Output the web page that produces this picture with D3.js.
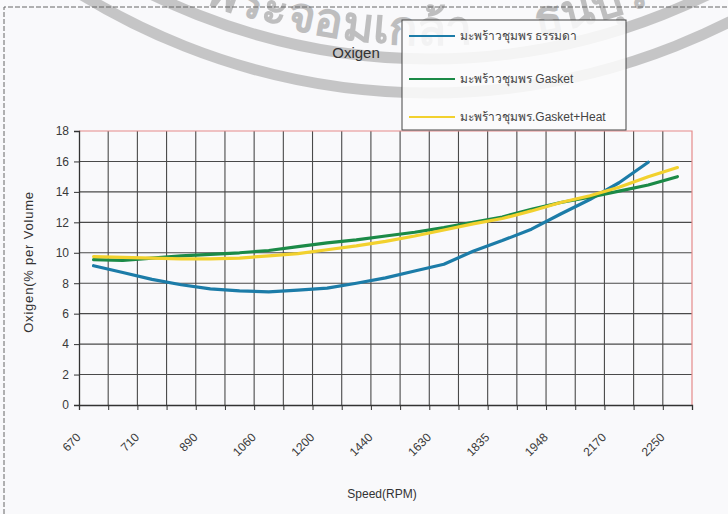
<!DOCTYPE html>
<html>
<head>
<meta charset="utf-8">
<script src="https://cdn.jsdelivr.net/npm/d3@7"></script>
<style>
  html, body { margin: 0; padding: 0; background: #f9f9fb; }
  svg { display: block; font-family: "Liberation Sans", Arial, sans-serif; }
</style>
</head>
<body>
<svg id="chart" width="728" height="514"></svg>
<script>
// Engine speed categories (only every other one carries a printed label)
const speedLabels = ["670", "", "710", "", "890", "", "1060", "", "1200", "", "1440",
                     "", "1630", "", "1835", "", "1948", "", "2170", "", "2250"];

// Oxygen in exhaust, % by volume
const plainValues  = [9.15, 8.7, 8.25, 7.9, 7.63, 7.5, 7.43, 7.55, 7.68, 8.0, 8.35,
                      8.8, 9.25, 10.1, 10.8, 11.55, 12.55, 13.5, 14.6, 15.95];
const gasketValues = [9.55, 9.5, 9.65, 9.8, 9.9, 10.0, 10.15, 10.4, 10.65, 10.85, 11.1,
                      11.35, 11.65, 12.0, 12.35, 12.85, 13.3, 13.65, 14.05, 14.45, 15.0];
const heatValues   = [9.75, 9.7, 9.65, 9.6, 9.6, 9.65, 9.8, 9.95, 10.2, 10.45, 10.75,
                      11.1, 11.5, 11.9, 12.25, 12.75, 13.3, 13.75, 14.3, 15.0, 15.6];

const seriesNames  = ["มะพร้าวชุมพร ธรรมดา", "มะพร้าวชุมพร Gasket", "มะพร้าวชุมพร.Gasket+Heat"];
const seriesColors = ["#1c7ca8", "#1b8a47", "#f2d12e"];
const yTicks = [0, 2, 4, 6, 8, 10, 12, 14, 16, 18];

const svg = d3.select("#chart");
const plot = { left: 79, right: 692, top: 131, bottom: 405 };
const textColor = "#3a3a3a";

// ---- faint seal stamped across the top of the sheet ----
const seal = { cx: 430, cy: -573 };
const stamp = svg.append("g").attr("opacity", 0.55);
[632, 666].forEach(r => {
  stamp.append("circle")
    .attr("cx", seal.cx).attr("cy", seal.cy).attr("r", r)
    .attr("fill", "none").attr("stroke", "#9c9c9c").attr("stroke-width", 11);
});
const rText = 618;
const a0 = Math.PI / 2 + 0.6, a1 = Math.PI / 2 - 0.6;
stamp.append("path")
  .attr("id", "sealArc")
  .attr("fill", "none")
  .attr("d", `M${seal.cx + rText * Math.cos(a0)},${seal.cy + rText * Math.sin(a0)}
              A${rText},${rText} 0 0 0 ${seal.cx + rText * Math.cos(a1)},${seal.cy + rText * Math.sin(a1)}`);
[["พระจอมเกล้า", 140], ["ธนบุรี", 478]].forEach(([word, offset]) => {
  stamp.append("text")
    .attr("font-size", 48).attr("font-weight", "bold").attr("fill", "#8f8f8f")
    .append("textPath").attr("href", "#sealArc").attr("startOffset", offset)
    .text(word);
});

// ---- outer chart frame ----
svg.append("path")
  .attr("d", "M4,514 L4,7 L728,7")
  .attr("fill", "none").attr("stroke", "#666").attr("stroke-width", 1)
  .attr("stroke-dasharray", "5,2");

// ---- scales ----
const x = d3.scaleBand().domain(d3.range(speedLabels.length))
  .range([plot.left, plot.right]).paddingInner(0).paddingOuter(0);
const xEdge = d3.scaleLinear().domain([0, speedLabels.length])
  .range([plot.left, plot.right]);
const y = d3.scaleLinear().domain([0, 18]).range([plot.bottom, plot.top]);

// ---- gridlines ----
const grid = svg.append("g").attr("stroke", "#4a4a4a").attr("stroke-width", 1.1);
yTicks.filter(v => v > 0 && v < 18).forEach(v => {
  grid.append("line").attr("x1", plot.left).attr("x2", plot.right)
    .attr("y1", y(v)).attr("y2", y(v));
});
d3.range(1, speedLabels.length).forEach(i => {
  grid.append("line").attr("x1", xEdge(i)).attr("x2", xEdge(i))
    .attr("y1", plot.top).attr("y2", plot.bottom);
});

// plot-area border (top and right)
svg.append("path")
  .attr("d", `M${plot.left},${plot.top} L${plot.right},${plot.top} L${plot.right},${plot.bottom}`)
  .attr("fill", "none").attr("stroke", "#e58a8a").attr("stroke-width", 1.2);

// ---- axes ----
const yAxis = svg.append("g")
  .attr("transform", `translate(${plot.left},0)`)
  .call(d3.axisLeft(y).tickValues(yTicks).tickSize(5).tickPadding(5).tickFormat(d3.format("d")));
yAxis.select(".domain").attr("stroke", "#333").attr("stroke-width", 1.3);
yAxis.selectAll(".tick line").attr("stroke", "#333");
yAxis.selectAll("text").attr("fill", textColor).attr("font-size", 12)
  .attr("font-family", "Liberation Sans, Arial, sans-serif");

const xAxis = svg.append("g")
  .attr("transform", `translate(0,${plot.bottom})`)
  .call(d3.axisBottom(xEdge).tickValues(d3.range(speedLabels.length + 1))
    .tickSize(5).tickFormat(""));
xAxis.select(".domain").attr("stroke", "#333").attr("stroke-width", 1.3);
xAxis.selectAll(".tick line").attr("stroke", "#333");

svg.append("g").selectAll("text")
  .data(speedLabels.map((s, i) => ({ s, i })).filter(d => d.s !== ""))
  .join("text")
  .attr("transform", d => `translate(${x(d.i) + x.bandwidth() / 2 - 12},${plot.bottom + 33}) rotate(-45)`)
  .attr("text-anchor", "end")
  .attr("font-size", 12).attr("fill", textColor)
  .text(d => d.s);

// ---- titles ----
svg.append("text").attr("x", 356).attr("y", 58).attr("text-anchor", "middle")
  .attr("font-size", 15).attr("fill", "#333").text("Oxigen");
svg.append("text").attr("x", 382).attr("y", 498).attr("text-anchor", "middle")
  .attr("font-size", 12).attr("fill", "#333").text("Speed(RPM)");
svg.append("text")
  .attr("transform", "translate(33,262) rotate(-90)")
  .attr("text-anchor", "middle").attr("font-size", 13).attr("letter-spacing", 0.8)
  .attr("fill", "#333")
  .text("Oxigen(% per Volume");

// ---- data lines ----
const line = d3.line()
  .x((d, i) => x(i) + x.bandwidth() / 2)
  .y(d => y(d));
[plainValues, gasketValues, heatValues].forEach((vals, k) => {
  svg.append("path")
    .datum(vals)
    .attr("fill", "none")
    .attr("stroke", seriesColors[k])
    .attr("stroke-width", 3.2)
    .attr("stroke-linejoin", "round")
    .attr("stroke-linecap", "round")
    .attr("d", line);
});

// ---- legend ----
const legend = svg.append("g");
legend.append("rect")
  .attr("x", 402).attr("y", 20).attr("width", 224).attr("height", 110)
  .attr("fill", "#fbfbfc").attr("fill-opacity", 0.85).attr("stroke", "#444").attr("stroke-width", 1);
seriesNames.forEach((name, k) => {
  const ly = [36, 79, 117][k];
  legend.append("line")
    .attr("x1", 409).attr("x2", 455).attr("y1", ly).attr("y2", ly)
    .attr("stroke", seriesColors[k]).attr("stroke-width", 2);
  legend.append("text")
    .attr("x", 460).attr("y", ly + 4)
    .attr("font-size", 12).attr("fill", "#444")
    .text(name);
});
</script>
</body>
</html>
